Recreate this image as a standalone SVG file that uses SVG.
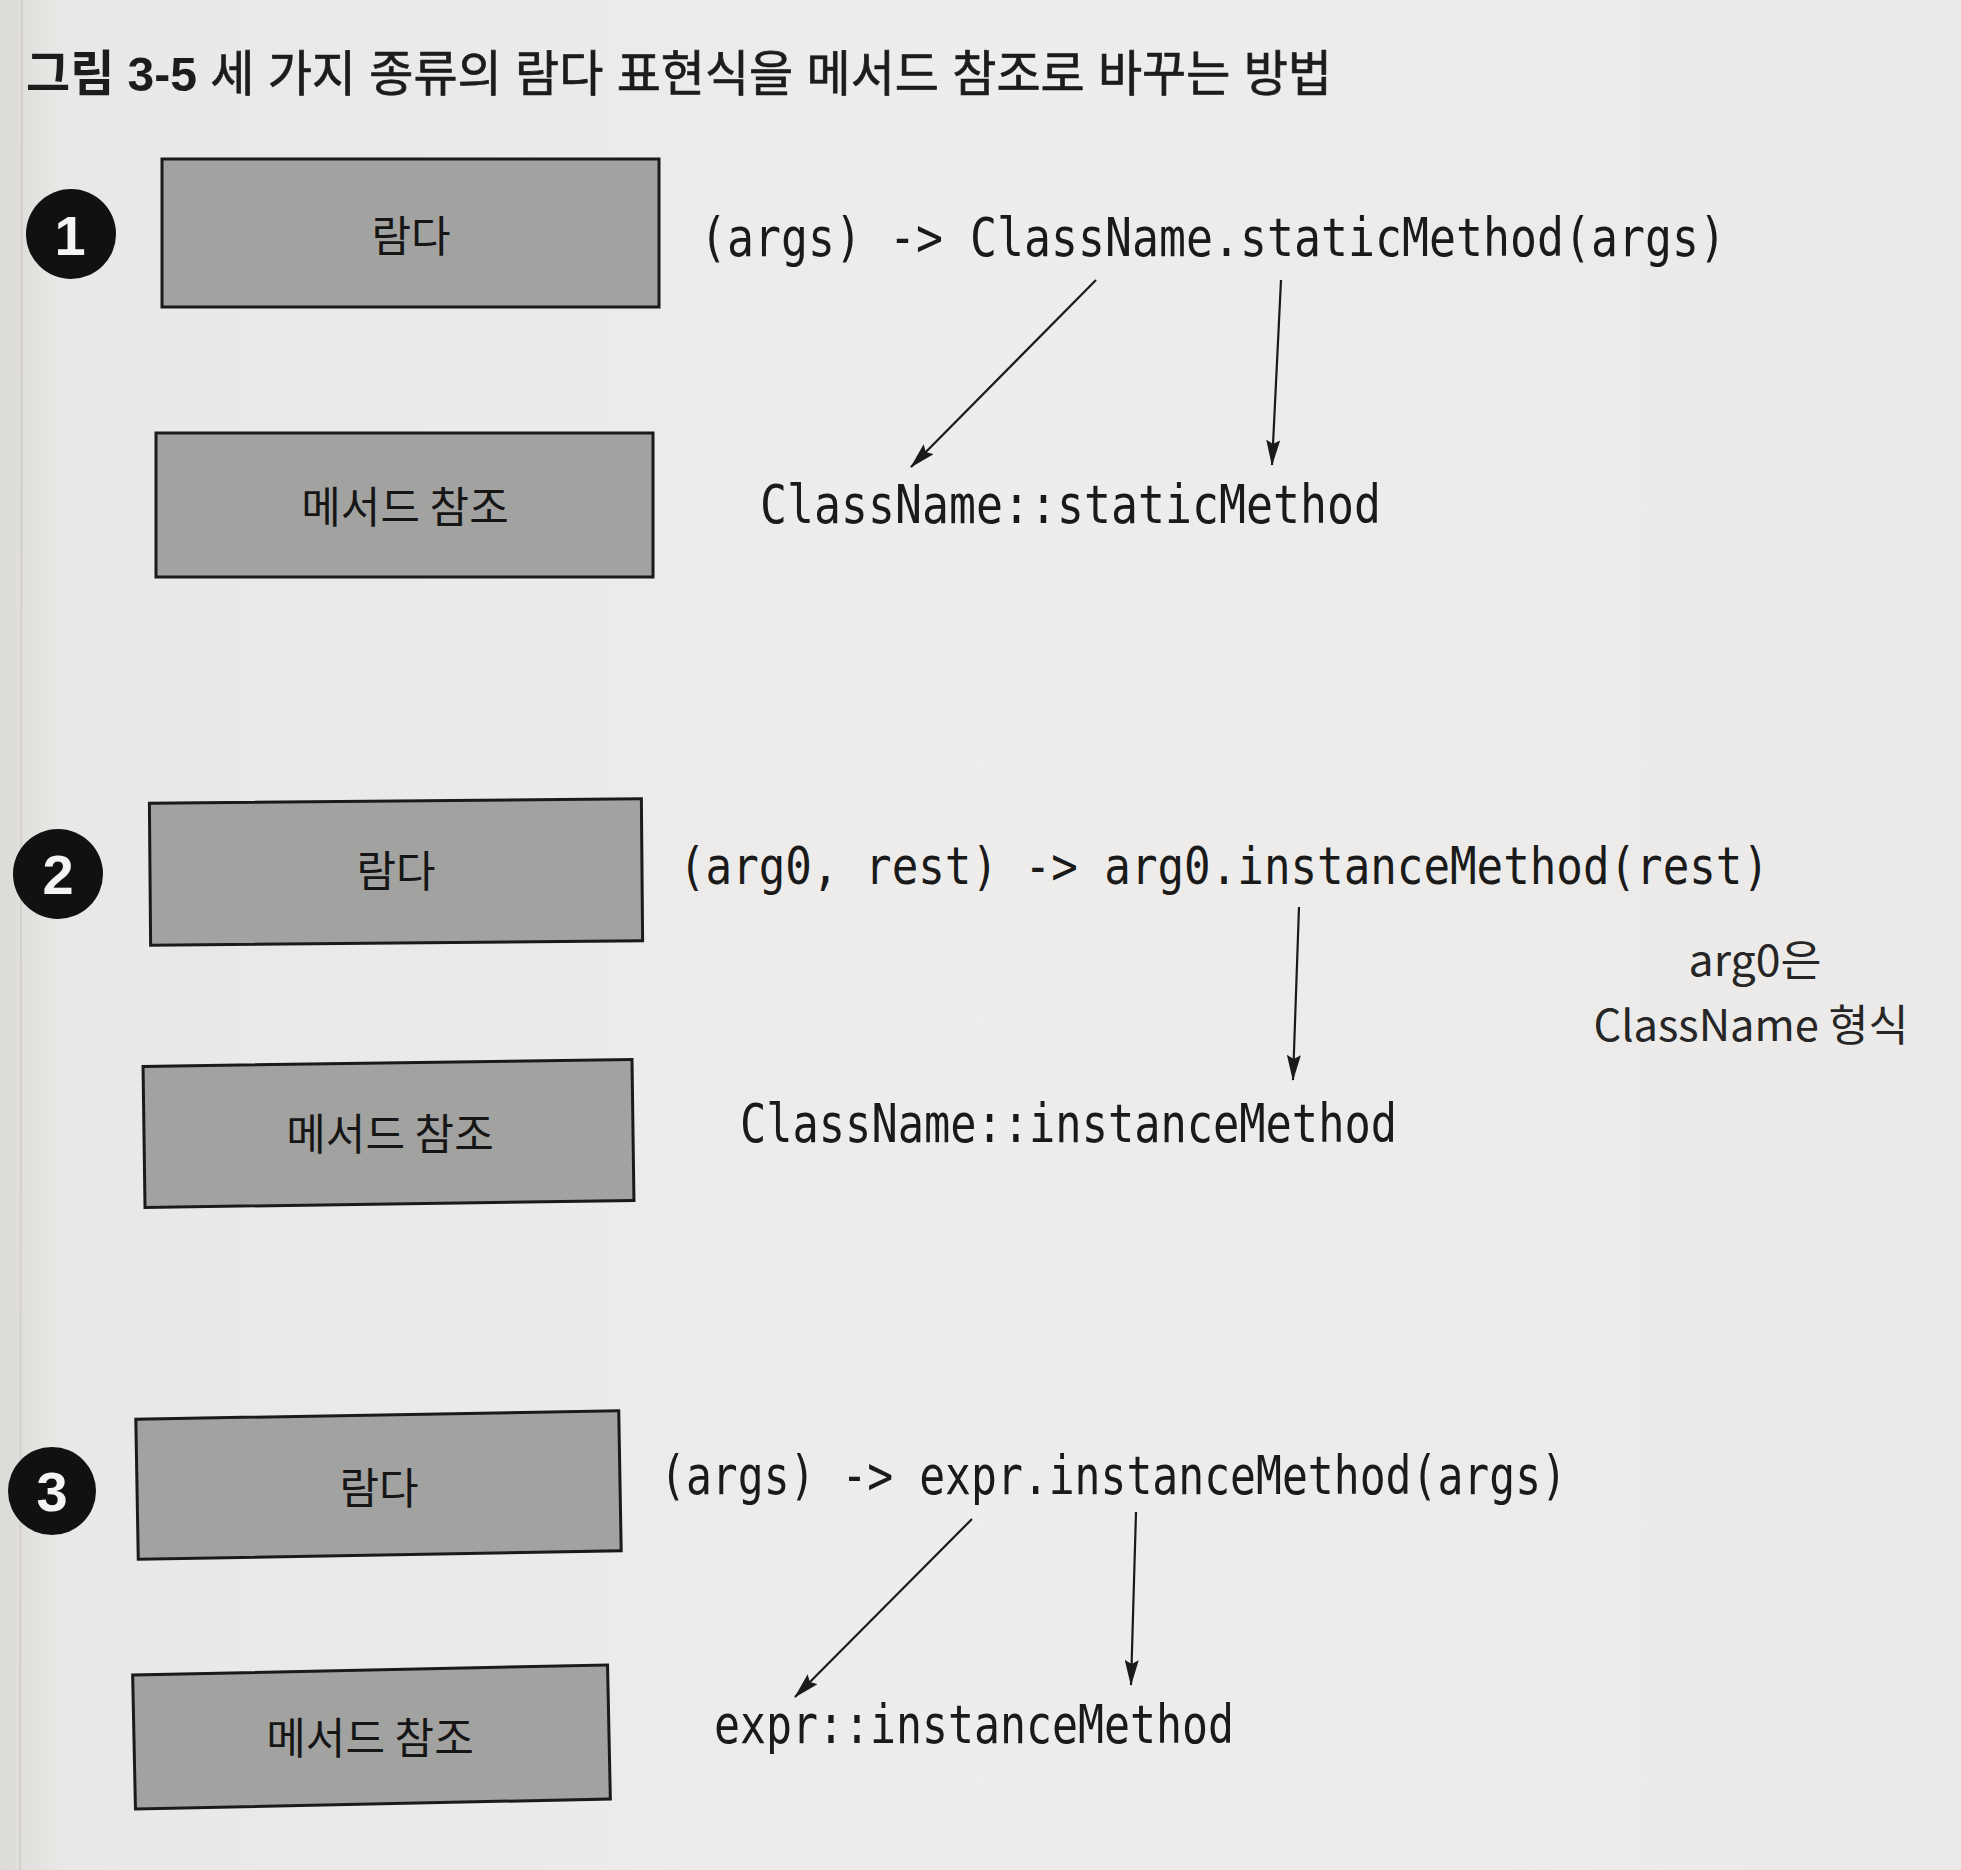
<svg xmlns="http://www.w3.org/2000/svg" width="1961" height="1870" viewBox="0 0 1961 1870">
  <defs>
    <linearGradient id="page" x1="0" y1="0" x2="1" y2="0">
      <stop offset="0" stop-color="#dcdad7"/>
      <stop offset="0.03" stop-color="#e9e8e6"/>
      <stop offset="0.5" stop-color="#eeedeb"/>
      <stop offset="1" stop-color="#ebeae8"/>
    </linearGradient>
    <marker id="arrow" markerUnits="userSpaceOnUse" markerWidth="26" markerHeight="14" refX="25" refY="7" orient="auto">
      <path d="M0,0 L26,7 L0,14 L4,7 z" fill="#1a1a1a"/>
    </marker>
    <style>
      .title { font-family: "Liberation Sans", "Noto Sans CJK KR", sans-serif; font-size: 49px; fill: #1c1c1c; }
      .box { fill: #a2a2a0; stroke: #1a1a1a; stroke-width: 3; }
      .boxlabel { font-family: "Noto Sans CJK KR", sans-serif; font-size: 43px; fill: #161616; text-anchor: middle; }
      .badge { fill: #111111; }
      .num { font-family: "Liberation Sans", sans-serif; font-weight: bold; font-size: 56px; fill: #f4f4f4; text-anchor: middle; }
      .code { font-family: "DejaVu Sans Mono", monospace; font-size: 54px; fill: #1a1a1a; }
      .code.long { font-size: 51px; }
      .note { font-family: "Noto Sans CJK KR", sans-serif; font-size: 43px; fill: #262626; text-anchor: middle; }
      .conn { stroke: #1a1a1a; stroke-width: 2.2; fill: none; marker-end: url(#arrow); }
    </style>
  </defs>

  <rect x="0" y="0" width="1961" height="1870" fill="url(#page)"/>
  <line x1="22" y1="0" x2="20" y2="1870" stroke="#d2d0cd" stroke-width="2"/>

  <g id="title">
    <text class="title" x="26" y="91" textLength="1306" lengthAdjust="spacingAndGlyphs"><tspan font-weight="bold">그림 3-5</tspan><tspan stroke="#1c1c1c" stroke-width="0.7"> 세 가지 종류의 람다 표현식을 메서드 참조로 바꾸는 방법</tspan></text>
  </g>

  <!-- Section 1 -->
  <g id="badge1">
    <circle class="badge" cx="71" cy="234" r="45"/>
    <text class="num" x="70" y="255">1</text>
  </g>
  <g id="lambda1">
    <rect class="box" x="162" y="159" width="497" height="148"/>
    <text class="boxlabel" x="411" y="252">람다</text>
  </g>
  <g id="methodref1">
    <rect class="box" x="156" y="433" width="497" height="144"/>
    <text class="boxlabel" x="405" y="523">메서드 참조</text>
  </g>
  <g id="lambdaExpr1">
    <text class="code" x="700" y="256" textLength="1026" lengthAdjust="spacingAndGlyphs">(args) -&gt; ClassName.staticMethod(args)</text>
  </g>
  <g id="methodRefExpr1">
    <text class="code" x="760" y="523" textLength="621" lengthAdjust="spacingAndGlyphs">ClassName::staticMethod</text>
  </g>

  <!-- Section 2 -->
  <g id="badge2">
    <circle class="badge" cx="58" cy="874" r="45"/>
    <text class="num" x="58" y="894">2</text>
  </g>
  <g id="lambda2">
    <rect class="box" x="150" y="801" width="492" height="142" transform="rotate(-0.5 396 872)"/>
    <text class="boxlabel" x="396" y="887">람다</text>
  </g>
  <g id="methodref2">
    <rect class="box" x="144" y="1063" width="489" height="141" transform="rotate(-0.8 388 1133)"/>
    <text class="boxlabel" x="390" y="1150">메서드 참조</text>
  </g>
  <g id="lambdaExpr2">
    <text class="code long" x="679" y="884" textLength="1090" lengthAdjust="spacingAndGlyphs">(arg0, rest) -&gt; arg0.instanceMethod(rest)</text>
  </g>
  <g id="methodRefExpr2">
    <text class="code" x="740" y="1142" textLength="657" lengthAdjust="spacingAndGlyphs">ClassName::instanceMethod</text>
  </g>
  <g id="note2">
    <text class="note" x="1755" y="976" textLength="133" lengthAdjust="spacingAndGlyphs">arg0은</text>
    <text class="note" x="1751" y="1041" textLength="315" lengthAdjust="spacingAndGlyphs">ClassName 형식</text>
  </g>

  <!-- Section 3 -->
  <g id="badge3">
    <circle class="badge" cx="52" cy="1491" r="44"/>
    <text class="num" x="52" y="1511">3</text>
  </g>
  <g id="lambda3">
    <rect class="box" x="137" y="1415" width="483" height="140" transform="rotate(-1 378 1485)"/>
    <text class="boxlabel" x="379" y="1504">람다</text>
  </g>
  <g id="methodref3">
    <rect class="box" x="134" y="1670" width="475" height="134" transform="rotate(-1.2 371 1737)"/>
    <text class="boxlabel" x="370" y="1754">메서드 참조</text>
  </g>
  <g id="lambdaExpr3">
    <text class="code" x="660" y="1494" textLength="907" lengthAdjust="spacingAndGlyphs">(args) -&gt; expr.instanceMethod(args)</text>
  </g>
  <g id="methodRefExpr3">
    <text class="code" x="714" y="1743" textLength="520" lengthAdjust="spacingAndGlyphs">expr::instanceMethod</text>
  </g>

  <g id="connectors">
    <line class="conn" x1="1096" y1="280" x2="911" y2="467"/>
    <line class="conn" x1="1281" y1="280" x2="1272" y2="465"/>
    <line class="conn" x1="1299" y1="907" x2="1293" y2="1080"/>
    <line class="conn" x1="972" y1="1519" x2="795" y2="1697"/>
    <line class="conn" x1="1136" y1="1512" x2="1131" y2="1685"/>
  </g>
</svg>
